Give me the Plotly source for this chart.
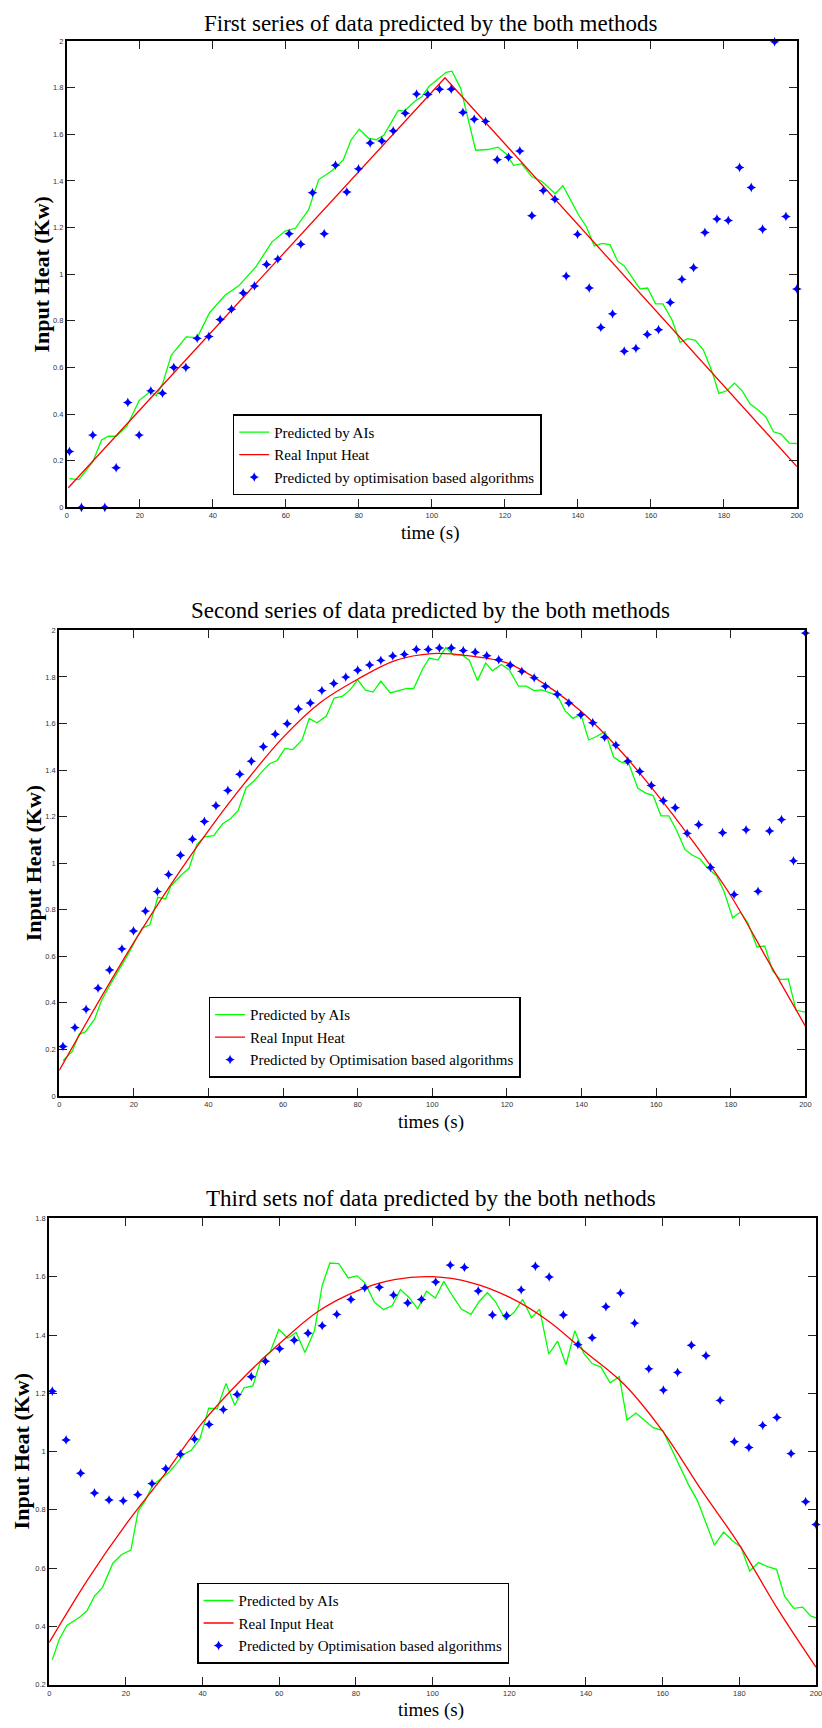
import plotly.graph_objects as go

W, H = 822, 1728

# ---------------- Panel 1: first series (triangular heat input) ----------------
t1_opt = [0.7, 4.0, 7.1, 10.4, 13.5, 16.7, 19.8, 23.0, 26.2, 29.3, 32.6, 35.7, 38.9, 42.0,
          45.1, 48.3, 51.4, 54.7, 57.8, 60.9, 64.1, 67.3, 70.5, 73.6, 76.7, 79.9, 83.1, 86.3,
          89.4, 92.7, 95.8, 98.9, 102.1, 105.3, 108.5, 111.6, 114.7, 117.9, 121.0, 124.1,
          127.4, 130.5, 133.7, 136.8, 139.9, 143.1, 146.3, 149.5, 152.7, 155.9, 159.0, 162.1,
          165.3, 168.5, 171.7, 174.8, 178.1, 181.2, 184.3, 187.5, 190.6, 193.9, 197.0, 200.0]
q1_opt = [0.24, 0.0, 0.31, 0.0, 0.17, 0.45, 0.31, 0.50, 0.49, 0.60, 0.60, 0.725, 0.733, 0.806,
          0.85, 0.92, 0.95, 1.042, 1.065, 1.174, 1.129, 1.35, 1.174, 1.468, 1.353, 1.452, 1.563,
          1.572, 1.615, 1.691, 1.773, 1.771, 1.794, 1.794, 1.694, 1.665, 1.656, 1.491, 1.502,
          1.529, 1.251, 1.359, 1.322, 0.992, 1.171, 0.941, 0.772, 0.83, 0.67, 0.682, 0.742,
          0.762, 0.879, 0.978, 1.028, 1.179, 1.237, 1.231, 1.458, 1.372, 1.193, 1.997, 1.248,
          0.937]

t1_ai = [0.7, 3.3, 7.1, 9.5, 11.4, 13.5, 16.4, 19.8, 22.8, 24.5, 26.3, 28.6, 32.7, 35.7, 39.1,
         43.4, 47.0, 51.7, 56.2, 59.8, 62.6, 66.2, 69.0, 72.6, 75.7, 77.9, 80.1, 82.6, 84.7,
         86.8, 90.8, 92.5, 95.4, 97.2, 99.2, 103.9, 105.5, 107.9, 112.0, 115.3, 118.1, 120.3,
         122.4, 124.6, 127.4, 130.2, 133.8, 135.9, 140.2, 142.3, 144.5, 146.6, 148.8, 150.9,
         152.7, 155.2, 157.0, 159.1, 161.3, 163.3, 165.8, 168.0, 170.1, 172.2, 174.4, 176.9,
         178.6, 180.8, 182.9, 185.0, 187.2, 189.3, 191.5, 193.6, 195.7, 197.9, 200.0]
q1_ai = [0.123, 0.119, 0.195, 0.289, 0.305, 0.305, 0.347, 0.458, 0.497, 0.479, 0.533, 0.652,
         0.731, 0.728, 0.835, 0.911, 0.949, 1.03, 1.139, 1.185, 1.197, 1.276, 1.406, 1.444,
         1.49, 1.577, 1.622, 1.584, 1.577, 1.596, 1.703, 1.70, 1.743, 1.761, 1.805, 1.866,
         1.871, 1.797, 1.532, 1.535, 1.545, 1.517, 1.467, 1.474, 1.418, 1.398, 1.345, 1.38,
         1.254, 1.205, 1.121, 1.132, 1.127, 1.056, 1.036, 0.975, 0.937, 0.941, 0.873, 0.873,
         0.804, 0.708, 0.724, 0.716, 0.675, 0.576, 0.489, 0.50, 0.533, 0.50, 0.443, 0.419,
         0.388, 0.324, 0.314, 0.276, 0.274]

t1_real = [0.4, 103.6, 200.0]
q1_real = [0.084, 1.843, 0.175]

# ---------------- Panel 2: second series (smooth arch) ----------------
t2_opt = [1.0, 4.2, 7.2, 10.4, 13.5, 16.8, 19.9, 23.1, 26.3, 29.3, 32.5, 35.7, 38.9, 42.0,
          45.2, 48.4, 51.5, 54.7, 57.9, 61.1, 64.1, 67.3, 70.4, 73.6, 76.8, 80.0, 83.2, 86.2,
          89.4, 92.5, 95.7, 98.9, 101.9, 105.1, 108.3, 111.5, 114.6, 117.8, 120.9, 124.0,
          127.3, 130.3, 133.5, 136.6, 139.8, 143.0, 146.2, 149.2, 152.4, 155.6, 158.7, 161.9,
          165.1, 168.3, 171.4, 174.6, 177.8, 180.9, 184.1, 187.3, 190.4, 193.6, 196.8, 200.0]
q2_opt = [0.213, 0.294, 0.372, 0.463, 0.541, 0.632, 0.709, 0.794, 0.878, 0.951, 1.034, 1.103,
          1.179, 1.247, 1.312, 1.382, 1.438, 1.50, 1.554, 1.599, 1.662, 1.688, 1.741, 1.772,
          1.799, 1.829, 1.851, 1.871, 1.89, 1.897, 1.918, 1.918, 1.924, 1.924, 1.913, 1.906,
          1.891, 1.874, 1.85, 1.824, 1.796, 1.76, 1.725, 1.688, 1.637, 1.603, 1.541, 1.507,
          1.438, 1.394, 1.334, 1.268, 1.238, 1.128, 1.165, 0.982, 1.131, 0.865, 1.143, 0.879,
          1.138, 1.187, 1.01, 1.988]

t2_ai = [1.0, 3.5, 5.3, 7.0, 9.5, 11.4, 13.9, 16.4, 18.8, 20.9, 22.3, 24.3, 26.4, 28.5, 29.9,
         32.7, 34.8, 36.9, 38.9, 41.4, 43.8, 45.9, 48.0, 50.1, 52.2, 54.2, 56.3, 58.4, 60.5,
         62.6, 65.1, 67.0, 69.1, 71.6, 73.7, 75.8, 77.9, 80.0, 82.1, 84.1, 86.2, 88.7, 91.1,
         93.2, 95.0, 97.4, 99.2, 101.5, 103.6, 105.7, 107.8, 109.9, 112.1, 114.3, 116.1,
         118.5, 120.6, 123.1, 125.2, 127.3, 129.3, 131.4, 133.5, 135.6, 137.7, 139.8, 141.9,
         144.0, 146.3, 148.6, 150.6, 152.7, 155.1, 157.2, 159.2, 161.3, 163.4, 165.5, 167.7,
         169.7, 171.7, 173.8, 176.2, 178.2, 180.5, 182.6, 184.6, 187.0, 189.1, 191.2, 193.3,
         195.4, 197.5, 200.0]
q2_ai = [0.151, 0.191, 0.265, 0.275, 0.331, 0.412, 0.485, 0.551, 0.618, 0.684, 0.721, 0.735,
         0.853, 0.846, 0.901, 0.949, 0.978, 1.081, 1.113, 1.118, 1.169, 1.191, 1.228, 1.324,
         1.353, 1.39, 1.426, 1.441, 1.493, 1.488, 1.529, 1.621, 1.603, 1.632, 1.709, 1.716,
         1.743, 1.787, 1.743, 1.735, 1.782, 1.731, 1.743, 1.751, 1.75, 1.834, 1.881, 1.872,
         1.926, 1.894, 1.896, 1.872, 1.784, 1.86, 1.826, 1.853, 1.831, 1.76, 1.76, 1.741,
         1.744, 1.731, 1.721, 1.654, 1.622, 1.64, 1.529, 1.544, 1.566, 1.456, 1.434, 1.426,
         1.321, 1.301, 1.29, 1.203, 1.203, 1.14, 1.059, 1.034, 1.019, 0.978, 0.946, 0.878,
         0.765, 0.79, 0.743, 0.64, 0.644, 0.537, 0.50, 0.503, 0.368, 0.36]

t2_real = [0, 10, 20, 30, 40, 50, 60, 70, 80, 90, 100, 110, 120, 130, 140, 150, 160, 170,
           180, 190, 200]
q2_real = [0.11, 0.39, 0.66, 0.91, 1.14, 1.35, 1.54, 1.69, 1.79, 1.87, 1.90, 1.89, 1.86, 1.77,
           1.65, 1.49, 1.30, 1.09, 0.86, 0.58, 0.30]

# ---------------- Panel 3: third set ----------------
t3_opt = [0.8, 4.4, 8.2, 11.8, 15.6, 19.3, 23.1, 26.8, 30.4, 34.2, 37.9, 41.7, 45.4, 49.0,
          52.7, 56.4, 60.1, 63.9, 67.5, 71.2, 75.0, 78.7, 82.3, 86.1, 89.8, 93.5, 97.1, 100.8,
          104.6, 108.3, 111.9, 115.6, 119.3, 123.1, 126.8, 130.4, 134.1, 137.9, 141.6, 145.2,
          149.0, 152.7, 156.4, 160.2, 163.9, 167.5, 171.3, 175.0, 178.7, 182.5, 186.1, 189.8,
          193.5, 197.3, 200.0]
q3_opt = [1.207, 1.04, 0.926, 0.858, 0.834, 0.831, 0.852, 0.89, 0.941, 0.991, 1.043, 1.093,
          1.144, 1.196, 1.257, 1.31, 1.353, 1.382, 1.406, 1.432, 1.471, 1.522, 1.562, 1.564,
          1.537, 1.51, 1.522, 1.582, 1.64, 1.632, 1.551, 1.469, 1.466, 1.555, 1.636, 1.599,
          1.469, 1.367, 1.391, 1.497, 1.544, 1.441, 1.284, 1.211, 1.272, 1.365, 1.329, 1.176,
          1.034, 1.014, 1.09, 1.117, 0.993, 0.828, 0.75]

t3_ai = [0.8, 2.6, 4.6, 8.0, 9.8, 11.8, 13.9, 16.6, 18.9, 21.3, 23.2, 25.0, 27.0, 29.1, 31.1,
         33.4, 35.2, 37.0, 39.3, 41.6, 43.8, 46.1, 48.4, 50.8, 53.1, 55.2, 57.6, 59.9, 62.2,
         64.4, 66.7, 69.2, 71.2, 73.2, 75.5, 78.0, 80.3, 82.3, 84.8, 87.2, 89.5, 91.6, 93.9,
         96.1, 98.4, 100.7, 102.9, 105.2, 107.5, 110.0, 112.2, 114.3, 116.4, 119.0, 121.2,
         123.5, 125.8, 127.9, 130.3, 132.6, 134.8, 137.1, 139.4, 141.6, 143.9, 146.3, 148.7,
         150.7, 153.0, 155.2, 157.5, 160.0, 162.3, 164.6, 166.8, 169.1, 171.4, 173.5, 175.9,
         178.2, 180.4, 182.7, 185.0, 187.4, 189.7, 191.8, 194.2, 196.5, 198.6, 200.6]
q3_ai = [0.286, 0.355, 0.403, 0.432, 0.453, 0.504, 0.534, 0.617, 0.647, 0.662, 0.796, 0.831,
         0.885, 0.905, 0.927, 0.962, 0.992, 1.004, 1.043, 1.149, 1.147, 1.234, 1.159, 1.219,
         1.225, 1.314, 1.341, 1.419, 1.389, 1.409, 1.34, 1.415, 1.57, 1.647, 1.645, 1.596,
         1.603, 1.58, 1.513, 1.487, 1.501, 1.556, 1.528, 1.49, 1.55, 1.527, 1.584, 1.534,
         1.489, 1.471, 1.516, 1.546, 1.514, 1.454, 1.477, 1.522, 1.459, 1.489, 1.334, 1.379,
         1.298, 1.415, 1.338, 1.302, 1.29, 1.236, 1.257, 1.108, 1.132, 1.108, 1.082, 1.073,
         1.01, 0.947, 0.885, 0.831, 0.748, 0.679, 0.724, 0.694, 0.673, 0.59, 0.619, 0.605,
         0.596, 0.504, 0.462, 0.466, 0.436, 0.426]

t3_real = [0, 10, 20, 30, 40, 50, 60, 70, 80, 90, 100, 110, 120, 130, 140, 150, 160, 170,
           180, 190, 200]
q3_real = [0.345, 0.56, 0.75, 0.92, 1.10, 1.245, 1.37, 1.48, 1.55, 1.59, 1.60, 1.58, 1.53,
           1.45, 1.34, 1.23, 1.07, 0.87, 0.68, 0.46, 0.26]

titles = ["First series of data predicted by the both methods",
          "Second series of data predicted by the both methods",
          "Third sets nof data predicted by the both nethods"]
xlabels = ["time (s)", "times (s)", "times (s)"]
ylabel = "Input Heat (Kw)"
opt_names = ["Predicted by optimisation based algorithms",
             "Predicted by Optimisation based algorithms",
             "Predicted by Optimisation based algorithms"]
y_ranges = [[0, 2], [0, 2], [0.2, 1.8]]

GREEN, RED, BLUE = "#00ff00", "#ff0000", "#0000ff"
SERIF = "Liberation Serif, Times New Roman, serif"
SANS = "Liberation Sans, Arial, sans-serif"

# pixel boxes of each panel: left, right, top, bottom
boxes = [(65.5, 802.7, 37.3, 506.0),
         (57.8, 811.3, 629.6, 1097.7),
         (47.7, 822.0, 1220.8, 1689.5)]
legend_pos = [(233, 412.5), (208.6, 998), (197, 1587)]
title_y = [19.5, 610, 1201]
xlabel_y = [532, 1123.5, 1715]
ylabel_x = [39.7, 31.5, 20.0]

panels = [
    (t1_ai, q1_ai, t1_real, q1_real, t1_opt, q1_opt, "linear"),
    (t2_ai, q2_ai, t2_real, q2_real, t2_opt, q2_opt, "spline"),
    (t3_ai, q3_ai, t3_real, q3_real, t3_opt, q3_opt, "spline"),
]

fig = go.Figure()
layout = dict(width=W, height=H, margin=dict(l=0, r=0, t=0, b=0),
              paper_bgcolor="white", plot_bgcolor="white", showlegend=True)
annotations = []

for i, (ta, qa, tr, qr, to, qo, shape) in enumerate(panels):
    n = "" if i == 0 else str(i + 1)
    xa, ya = "x" + n, "y" + n
    leg = "legend" + n
    fig.add_trace(go.Scatter(x=ta, y=qa, mode="lines", name="Predicted by AIs",
                             line=dict(color=GREEN, width=1.3), xaxis=xa, yaxis=ya, legend=leg))
    fig.add_trace(go.Scatter(x=tr, y=qr, mode="lines", name="Real Input Heat",
                             line=dict(color=RED, width=1.3, shape=shape, smoothing=1.0),
                             xaxis=xa, yaxis=ya, legend=leg))
    fig.add_trace(go.Scatter(x=to, y=qo, mode="markers", name=opt_names[i],
                             marker=dict(color=BLUE, symbol="star-diamond", size=7,
                                         line=dict(width=0)),
                             cliponaxis=False, xaxis=xa, yaxis=ya, legend=leg))

    l, r, t, b = boxes[i]
    axis_common = dict(showline=True, linewidth=2, linecolor="black", mirror="allticks",
                       ticks="inside", ticklen=8, tickwidth=1.2, tickcolor="#222",
                       showgrid=False, zeroline=False,
                       tickfont=dict(family=SANS, size=7.5, color="#333"))
    layout["xaxis" + n] = dict(domain=[l / W, r / W], range=[0, 200], dtick=20, tick0=0,
                               anchor=ya, ticklabeloverflow="allow", **axis_common)
    layout["yaxis" + n] = dict(domain=[1 - b / H, 1 - t / H], range=y_ranges[i], dtick=0.2,
                               tick0=0, anchor=xa, **axis_common)

    lx, ly = legend_pos[i]
    layout[leg] = dict(x=lx / W, y=1 - ly / H, xanchor="left", yanchor="top",
                       xref="paper", yref="paper",
                       bgcolor="white", bordercolor="black", borderwidth=1.5,
                       font=dict(family=SERIF, size=15, color="black"),
                       itemwidth=30, tracegroupgap=0)

    annotations.append(dict(text=titles[i], x=433 / W, y=1 - title_y[i] / H,
                            xref="paper", yref="paper", xanchor="center", yanchor="middle",
                            showarrow=False, font=dict(family=SERIF, size=23, color="black")))
    annotations.append(dict(text=xlabels[i], x=433 / W, y=1 - xlabel_y[i] / H,
                            xref="paper", yref="paper", xanchor="center", yanchor="middle",
                            showarrow=False, font=dict(family=SERIF, size=19, color="black")))
    annotations.append(dict(text="<b>" + ylabel + "</b>", x=ylabel_x[i] / W,
                            y=1 - (t + b) / 2 / H, xref="paper", yref="paper",
                            xanchor="center", yanchor="middle", textangle=-90,
                            showarrow=False, font=dict(family=SERIF, size=22, color="black")))

layout["annotations"] = annotations
fig.update_layout(**layout)
fig.write_html("out.html")
